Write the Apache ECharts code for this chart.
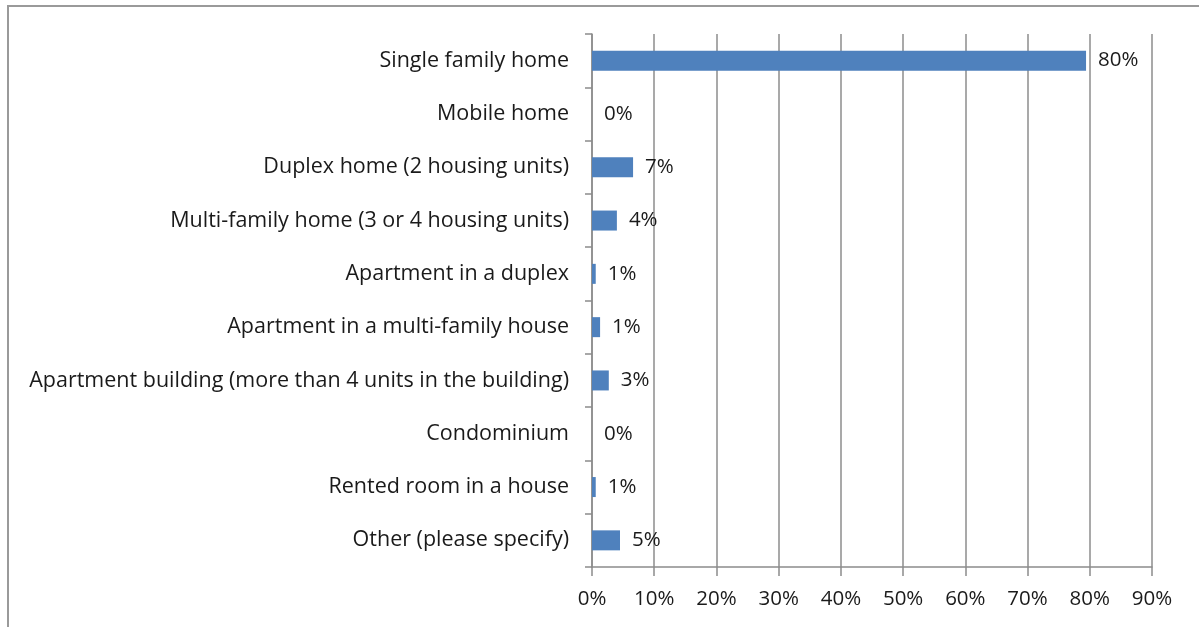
<!DOCTYPE html>
<html>
<head>
<meta charset="utf-8">
<script src="https://cdn.jsdelivr.net/npm/echarts@6/dist/echarts.min.js"></script>
<style>
	html, body { margin: 0; padding: 0; background: #fff; }
	#chart { width: 1199px; height: 627px; }
</style>
</head>
<body>
<div id="chart"></div>
<script>
	// categories, top to bottom as in the picture
	var categories = [
		'Single family home',
		'Mobile home',
		'Duplex home (2 housing units)',
		'Multi-family home (3 or 4 housing units)',
		'Apartment in a duplex',
		'Apartment in a multi-family house',
		'Apartment building (more than 4 units in the building)',
		'Condominium',
		'Rented room in a house',
		'Other (please specify)'
	];
	// bar lengths (percent)
	var values = [79.4, 0, 6.6, 4.0, 0.6, 1.3, 2.7, 0, 0.6, 4.5];
	// data labels as printed
	var valueLabels = ['80%', '0%', '7%', '4%', '1%', '1%', '3%', '0%', '1%', '5%'];
	var xTicks = [0, 10, 20, 30, 40, 50, 60, 70, 80, 90];

	var font = 'Open Sans';
	var gray = '#8c8c8c';

	var chart = echarts.init(document.getElementById('chart'));
	chart.setOption({
		animation: false,
		textStyle: { fontFamily: font },
		graphic: [{
			type: 'rect',
			shape: { x: 8, y: 6, width: 1300, height: 700 },
			style: { fill: 'none', stroke: '#9a9a9a', lineWidth: 2 },
			silent: true
		}],
		grid: {
			left: 592,
			top: 34,
			right: 47,
			bottom: 60,
			containLabel: false
		},
		xAxis: {
			type: 'value',
			min: xTicks[0],
			max: xTicks[xTicks.length - 1],
			interval: 10,
			axisLine: { show: true, lineStyle: { color: gray, width: 1.5 } },
			axisTick: { show: true, length: 9, lineStyle: { color: gray, width: 1.5 } },
			splitLine: { show: true, lineStyle: { color: gray, width: 1.5 } },
			axisLabel: {
				margin: 22,
				fontSize: 20.5,
				color: '#1a1a1a',
				formatter: function (v) { return v + '%'; }
			}
		},
		yAxis: {
			type: 'category',
			inverse: true,
			data: categories,
			axisLine: { show: true, lineStyle: { color: gray, width: 1.5 } },
			axisTick: { show: true, length: 7, lineStyle: { color: gray, width: 1.5 } },
			axisLabel: {
				margin: 23,
				fontSize: 21.5,
				color: '#1a1a1a'
			}
		},
		series: [{
			type: 'bar',
			data: values,
			barWidth: 20,
			itemStyle: { color: '#4f81bd' },
			label: {
				show: true,
				position: 'right',
				distance: 12,
				fontSize: 20.5,
				color: '#1a1a1a',
				formatter: function (p) { return valueLabels[p.dataIndex]; }
			}
		}]
	});
</script>
</body>
</html>
